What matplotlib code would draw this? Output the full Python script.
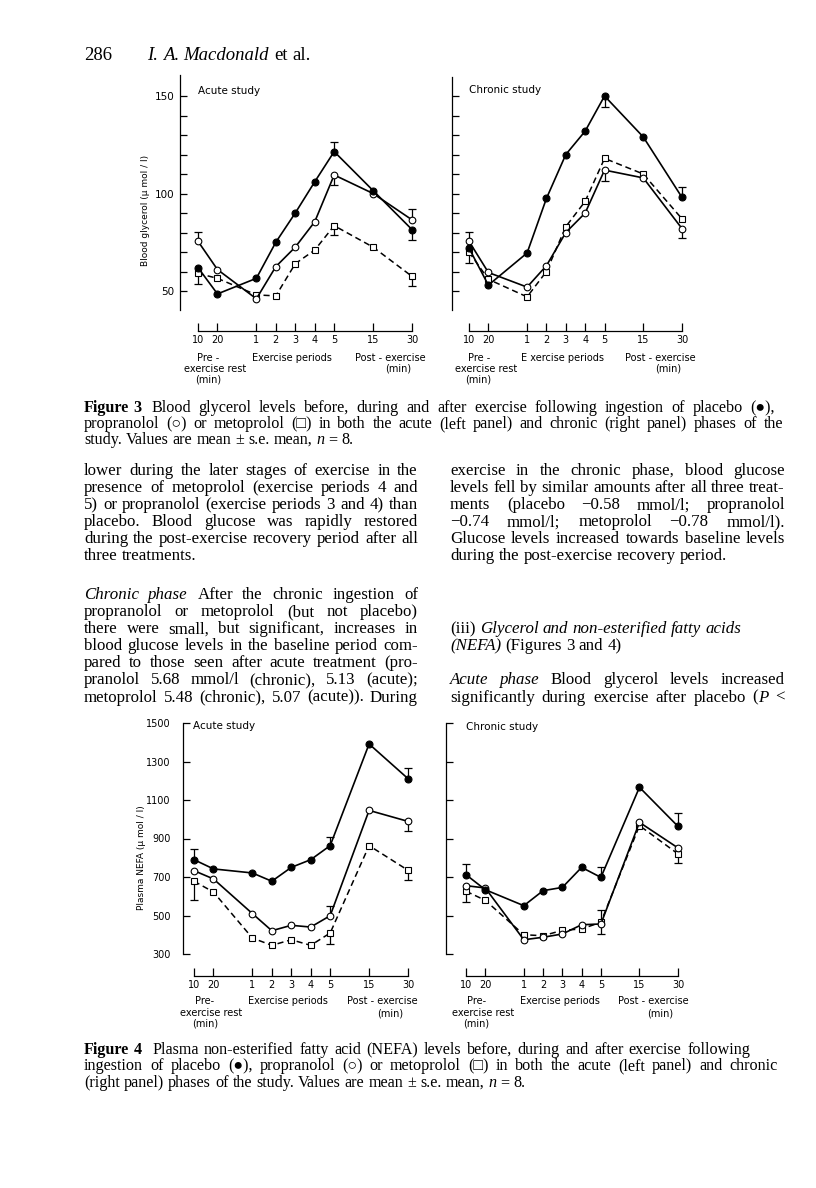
import matplotlib
matplotlib.use('Agg')
import matplotlib.pyplot as plt
from matplotlib.transforms import blended_transform_factory
import numpy as np

W, H = 816, 1188
SANS = ['Liberation Sans Narrow', 'DejaVu Sans']
SERIF = ['Liberation Serif', 'DejaVu Serif', 'DejaVu Sans']
plt.rcParams['font.family'] = SANS

# sampling points: 10, 20 min rest / exercise periods 1-5 / 15, 30 min post-exercise
x_pos = [0, 1, 3, 4, 5, 6, 7, 9, 11]
x_labels = ['10', '20', '1', '2', '3', '4', '5', '15', '30']

# Figure 3 - blood glycerol (umol/l)
gly_acute_placebo = [62, 48.5, 56.5, 75, 90, 106, 121.5, 101.5, 81.5]
gly_acute_propranolol = [75.5, 61, 46, 62.5, 72.5, 85.5, 109.5, 100, 86.5]
gly_acute_metoprolol = [59, 56.5, 48, 47.5, 64, 71, 83.5, 72.5, 57.5]
gly_chronic_placebo = [72, 53, 69.5, 97.5, 120, 132, 150, 129, 98]
gly_chronic_propranolol = [75.5, 59.5, 52, 63, 80, 90, 112, 108, 82]
gly_chronic_metoprolol = [70, 56, 47, 60, 83, 96, 118, 110, 87]

# one sided s.e. bars (0 = not drawn)
gly_acute_placebo_up = [0, 0, 0, 0, 0, 0, 5, 0, 0]
gly_acute_placebo_lo = [0, 0, 0, 0, 0, 0, 0, 0, 5.5]
gly_acute_propranolol_up = [5, 0, 0, 0, 0, 0, 0, 0, 5.5]
gly_acute_propranolol_lo = [0, 0, 0, 0, 0, 0, 5, 0, 0]
gly_acute_metoprolol_up = [0, 0, 0, 0, 0, 0, 0, 0, 0]
gly_acute_metoprolol_lo = [5.5, 0, 0, 0, 0, 0, 5, 0, 5]
gly_chronic_placebo_up = [0, 0, 0, 0, 0, 0, 0, 0, 5.5]
gly_chronic_placebo_lo = [0, 0, 0, 0, 0, 0, 5.5, 0, 0]
gly_chronic_propranolol_up = [5, 0, 0, 0, 0, 0, 0, 0, 0]
gly_chronic_propranolol_lo = [0, 0, 0, 0, 0, 0, 5.5, 0, 5]
gly_chronic_metoprolol_up = [0, 0, 0, 0, 0, 0, 0, 0, 0]
gly_chronic_metoprolol_lo = [5.7, 0, 0, 0, 0, 0, 0, 0, 0]

# Figure 4 - plasma NEFA (umol/l)
nefa_acute_placebo = [790, 742, 721, 678, 750, 790, 863, 1391, 1211]
nefa_acute_propranolol = [733, 690, 510, 421, 449, 440, 499, 1046, 989]
nefa_acute_metoprolol = [678, 622, 383, 345, 374, 345, 409, 863, 735]
nefa_chronic_placebo = [712, 634, 551, 629, 646, 750, 698, 1166, 963]
nefa_chronic_propranolol = [655, 643, 374, 387, 404, 452, 456, 984, 851]
nefa_chronic_metoprolol = [626, 579, 400, 395, 423, 430, 465, 967, 820]

nefa_acute_placebo_up = [55, 0, 0, 0, 0, 0, 45, 0, 55]
nefa_acute_placebo_lo = [0, 0, 0, 0, 0, 0, 0, 0, 0]
nefa_acute_propranolol_up = [0, 0, 0, 0, 0, 0, 50, 0, 0]
nefa_acute_propranolol_lo = [0, 0, 0, 0, 0, 0, 0, 0, 52]
nefa_acute_metoprolol_up = [0, 0, 0, 0, 0, 0, 0, 0, 0]
nefa_acute_metoprolol_lo = [100, 0, 0, 0, 0, 0, 55, 0, 50]
nefa_chronic_placebo_up = [57, 0, 0, 0, 0, 0, 52, 0, 70]
nefa_chronic_placebo_lo = [0, 0, 0, 0, 0, 0, 0, 0, 0]
nefa_chronic_propranolol_up = [0, 0, 0, 0, 0, 0, 71, 0, 0]
nefa_chronic_propranolol_lo = [0, 0, 0, 0, 0, 0, 0, 0, 0]
nefa_chronic_metoprolol_up = [0, 0, 0, 0, 0, 0, 0, 0, 0]
nefa_chronic_metoprolol_lo = [56, 0, 0, 0, 0, 0, 61, 0, 47]

st_placebo = dict(color='k', lw=1.2, marker='o', ms=5, mfc='k', mec='k', mew=0.8)
st_propranolol = dict(color='k', lw=1.2, marker='o', ms=4.8, mfc='white', mec='k', mew=0.8)
st_metoprolol = dict(color='k', lw=1.1, ls=(0, (4, 2.5)), marker='s', ms=4.2, mfc='white', mec='k', mew=0.8)

fig = plt.figure(figsize=(W / 100, H / 100), dpi=100, facecolor='white')


def one_sided(ax, y, err, sign):
    x = np.array(x_pos, dtype=float)
    y = np.array(y, dtype=float)
    e = np.array(err, dtype=float)
    m = e > 0
    if not m.any():
        return
    z = np.zeros(m.sum())
    yerr = [z, e[m]] if sign > 0 else [e[m], z]
    _, caps, bars = ax.errorbar(x[m], y[m], yerr=yerr, fmt='none', ecolor='k',
                                elinewidth=0.9, capsize=2.6, capthick=0.9, zorder=1)
    for c in caps:
        if np.allclose(c.get_ydata(), y[m]):
            c.set_visible(False)


def series(ax, y, up, lo, style):
    one_sided(ax, y, up, 1)
    one_sided(ax, y, lo, -1)
    ax.plot(x_pos, y, zorder=3, **style)


def make_panel(yaxis_px, x0_px, x11_px, top_px, bot_px, ref, yticks, ylabels, out_pt):
    sp = (x11_px - x0_px) / 11.0
    right_px = x11_px + 14
    ax = fig.add_axes([yaxis_px / W, 1 - bot_px / H, (right_px - yaxis_px) / W, (bot_px - top_px) / H])
    ax.patch.set_alpha(0)
    ax.set_xlim(-(x0_px - yaxis_px) / sp, 11 + 14 / sp)
    (v1, p1), (v2, p2) = ref
    k = (v1 - v2) / (p2 - p1)
    ax.set_ylim(v2 - (bot_px - p2) * k, v1 + (p1 - top_px) * k)
    for s in ['top', 'right']:
        ax.spines[s].set_visible(False)
    ax.spines['left'].set_linewidth(0.9)
    ax.spines['bottom'].set_linewidth(0.9)
    ax.spines['bottom'].set_position(('outward', out_pt))
    ax.spines['bottom'].set_bounds(0, 11)
    ax.set_xticks(x_pos, x_labels)
    ax.tick_params(axis='x', direction='in', length=5.5, width=0.9, pad=3, labelsize=7)
    ax.set_yticks(yticks)
    if ylabels is None:
        ax.set_yticklabels([])
    else:
        ax.set_yticklabels(ylabels)
    return ax


def group_labels(ax, rows, size=7):
    tr = blended_transform_factory(ax.transData, fig.transFigure)
    for xd, ypx, s in rows:
        ax.text(xd, 1 - ypx / H, s, transform=tr, ha='center', va='center', fontsize=size)


# ---------------- Figure 3 ----------------
gly_ticks = list(range(50, 151, 10))
gly_lab = ['50', '', '', '', '', '100', '', '', '', '', '150']
ax1 = make_panel(180, 198, 412, 75, 310, ((150, 96), (50, 291)), gly_ticks, gly_lab, 15)
ax1.tick_params(axis='y', direction='in', length=5, width=0.9, pad=4, labelsize=7.5)
series(ax1, gly_acute_metoprolol, gly_acute_metoprolol_up, gly_acute_metoprolol_lo, st_metoprolol)
series(ax1, gly_acute_propranolol, gly_acute_propranolol_up, gly_acute_propranolol_lo, st_propranolol)
series(ax1, gly_acute_placebo, gly_acute_placebo_up, gly_acute_placebo_lo, st_placebo)
ax1.text(0, 1 - 91 / H, 'Acute study', transform=blended_transform_factory(ax1.transData, fig.transFigure),
         fontsize=7.5, va='center', ha='left')

ax2 = make_panel(452, 469, 682, 77, 310, ((150, 96), (50, 291)), gly_ticks, None, 15)
ax2.tick_params(axis='y', direction='in', length=5, width=0.9)
series(ax2, gly_chronic_metoprolol, gly_chronic_metoprolol_up, gly_chronic_metoprolol_lo, st_metoprolol)
series(ax2, gly_chronic_propranolol, gly_chronic_propranolol_up, gly_chronic_propranolol_lo, st_propranolol)
series(ax2, gly_chronic_placebo, gly_chronic_placebo_up, gly_chronic_placebo_lo, st_placebo)
ax2.text(0, 1 - 90 / H, 'Chronic study', transform=blended_transform_factory(ax2.transData, fig.transFigure),
         fontsize=7.5, va='center', ha='left')

fig.text(145 / W, 1 - 210 / H, 'Blood glycerol (μ mol / l)', rotation=90, ha='center', va='center', fontsize=6.5)

group_labels(ax1, [(0.5, 358, 'Pre -'), (0.9, 369, 'exercise rest'), (0.5, 380, '(min)'),
                   (4.85, 358, 'Exercise periods'), (9.9, 358, 'Post - exercise'), (10.3, 369, '(min)')])
group_labels(ax2, [(0.5, 358, 'Pre -'), (0.9, 369, 'exercise rest'), (0.5, 380, '(min)'),
                   (4.85, 358, 'E xercise periods'), (9.9, 358, 'Post - exercise'), (10.3, 369, '(min)')])

# ---------------- Figure 4 ----------------
nefa_ticks = list(range(300, 1501, 200))
ax3 = make_panel(183, 194, 408, 723, 954, ((1500, 723), (300, 954)), nefa_ticks,
                 [str(v) for v in nefa_ticks], 16)
ax3.tick_params(axis='y', direction='in', length=5, width=0.9, pad=9, labelsize=7)
series(ax3, nefa_acute_metoprolol, nefa_acute_metoprolol_up, nefa_acute_metoprolol_lo, st_metoprolol)
series(ax3, nefa_acute_propranolol, nefa_acute_propranolol_up, nefa_acute_propranolol_lo, st_propranolol)
series(ax3, nefa_acute_placebo, nefa_acute_placebo_up, nefa_acute_placebo_lo, st_placebo)
ax3.text(-0.05, 1 - 726 / H, 'Acute study', transform=blended_transform_factory(ax3.transData, fig.transFigure),
         fontsize=7.5, va='center', ha='left')

ax4 = make_panel(446, 466, 678, 723, 954, ((1500, 723), (300, 954)), nefa_ticks, None, 16)
ax4.tick_params(axis='y', direction='in', length=5, width=0.9)
series(ax4, nefa_chronic_metoprolol, nefa_chronic_metoprolol_up, nefa_chronic_metoprolol_lo, st_metoprolol)
series(ax4, nefa_chronic_propranolol, nefa_chronic_propranolol_up, nefa_chronic_propranolol_lo, st_propranolol)
series(ax4, nefa_chronic_placebo, nefa_chronic_placebo_up, nefa_chronic_placebo_lo, st_placebo)
ax4.text(0, 1 - 727 / H, 'Chronic study', transform=blended_transform_factory(ax4.transData, fig.transFigure),
         fontsize=7.5, va='center', ha='left')

fig.text(141 / W, 1 - 858 / H, 'Plasma NEFA (μ mol / l)', rotation=90, ha='center', va='center', fontsize=6.5)

group_labels(ax3, [(0.55, 1001, 'Pre-'), (0.9, 1013, 'exercise rest'), (0.55, 1024, '(min)'),
                   (4.85, 1001, 'Exercise periods'), (9.7, 1001, 'Post - exercise'), (10.1, 1013, '(min)')])
group_labels(ax4, [(0.55, 1001, 'Pre-'), (0.9, 1013, 'exercise rest'), (0.55, 1024, '(min)'),
                   (4.85, 1001, 'Exercise periods'), (9.7, 1001, 'Post - exercise'), (10.1, 1013, '(min)')])

# ---------------- page text ----------------
renderer = fig.canvas.get_renderer()


def put_line(x0, x1, base_px, segs, size, justify=True):
    words = []
    glue = False
    for s, stl in segs:
        parts = s.split(' ')
        for i, p in enumerate(parts):
            if p == '':
                glue = False
                continue
            if i == 0 and glue and words:
                words[-1].append((p, stl))
            else:
                words.append([(p, stl)])
            glue = True
        glue = not s.endswith(' ')
    objs = []
    widths = []
    for w in words:
        row = []
        tot = 0
        for p, stl in w:
            kw = {}
            if stl == 'i':
                kw['fontstyle'] = 'italic'
            elif stl == 'b':
                kw['fontweight'] = 'bold'
            t = fig.text(0, 1 - base_px / H, p, fontsize=size, family=SERIF, va='baseline', ha='left', **kw)
            wd = t.get_window_extent(renderer).width
            row.append((t, wd))
            tot += wd
        objs.append(row)
        widths.append(tot)
    space = size * 100 / 72 * 0.25
    if justify and len(words) > 1:
        gap = (x1 - x0 - sum(widths)) / (len(words) - 1)
    else:
        gap = space
    x = x0
    for row, wd in zip(objs, widths):
        xx = x
        for t, w in row:
            t.set_x(xx / W)
            xx += w
        x += wd + gap


# header
put_line(84, 130, 60, [('286', 'n')], 13.5, False)
put_line(147, 330, 60, [('I. A. Macdonald', 'i'), (' et al.', 'n')], 13.5, False)

CAP = 11.6
BODY = 12.2

# Figure 3 caption
put_line(84, 150, 412, [('Figure 3', 'b')], CAP, False)
put_line(151, 775, 412, [('Blood glycerol levels before, during and after exercise following ingestion of placebo (●),', 'n')], CAP, True)
put_line(84, 783, 428, [('propranolol (○) or metoprolol (□) in both the acute (left panel) and chronic (right panel) phases of the', 'n')], CAP, True)
put_line(84, 790, 444, [('study. Values are mean ± s.e. mean,', 'n'), (' n', 'i'), (' = 8.', 'n')], CAP, False)

# body text, two justified columns
lead = 17.1
b1 = 475
b2 = 599
left_col = [
    (b1, [('lower during the later stages of exercise in the', 'n')], True),
    (b1 + lead, [('presence of metoprolol (exercise periods 4 and', 'n')], True),
    (b1 + 2 * lead, [('5) or propranolol (exercise periods 3 and 4) than', 'n')], True),
    (b1 + 3 * lead, [('placebo. Blood glucose was rapidly restored', 'n')], True),
    (b1 + 4 * lead, [('during the post-exercise recovery period after all', 'n')], True),
    (b1 + 5 * lead, [('three treatments.', 'n')], False),
    (b2, [('Chronic phase', 'i'), ('  After the chronic ingestion of', 'n')], True),
    (b2 + lead, [('propranolol or metoprolol (but not placebo)', 'n')], True),
    (b2 + 2 * lead, [('there were small, but significant, increases in', 'n')], True),
    (b2 + 3 * lead, [('blood glucose levels in the baseline period com-', 'n')], True),
    (b2 + 4 * lead, [('pared to those seen after acute treatment (pro-', 'n')], True),
    (b2 + 5 * lead, [('pranolol 5.68 mmol/l (chronic), 5.13 (acute);', 'n')], True),
    (b2 + 6 * lead, [('metoprolol 5.48 (chronic), 5.07 (acute)). During', 'n')], True),
]
right_col = [
    (b1, [('exercise in the chronic phase, blood glucose', 'n')], True),
    (b1 + lead, [('levels fell by similar amounts after all three treat-', 'n')], True),
    (b1 + 2 * lead, [('ments (placebo −0.58 mmol/l; propranolol', 'n')], True),
    (b1 + 3 * lead, [('−0.74 mmol/l; metoprolol −0.78 mmol/l).', 'n')], True),
    (b1 + 4 * lead, [('Glucose levels increased towards baseline levels', 'n')], True),
    (b1 + 5 * lead, [('during the post-exercise recovery period.', 'n')], False),
    (b2 + 2 * lead, [('(iii) ', 'n'), ('Glycerol and non-esterified fatty acids', 'i')], False),
    (b2 + 3 * lead, [('(NEFA)', 'i'), (' (Figures 3 and 4)', 'n')], False),
    (b2 + 5 * lead, [('Acute phase', 'i'), ('  Blood glycerol levels increased', 'n')], True),
    (b2 + 6 * lead, [('significantly during exercise after placebo (', 'n'), ('P', 'i'), (' <', 'n')], True),
]
for y, segs, j in left_col:
    put_line(84, 418, y, segs, BODY, j)
for y, segs, j in right_col:
    put_line(450, 785, y, segs, BODY, j)

# Figure 4 caption
put_line(84, 150, 1054, [('Figure 4', 'b')], CAP, False)
put_line(152, 750, 1054, [('Plasma non-esterified fatty acid (NEFA) levels before, during and after exercise following', 'n')], CAP, True)
put_line(84, 778, 1070, [('ingestion of placebo (●), propranolol (○) or metoprolol (□) in both the acute (left panel) and chronic', 'n')], CAP, True)
put_line(84, 790, 1087, [('(right panel) phases of the study. Values are mean ± s.e. mean,', 'n'), (' n', 'i'), (' = 8.', 'n')], CAP, False)

fig.savefig('out.png', dpi=100, facecolor='white')
